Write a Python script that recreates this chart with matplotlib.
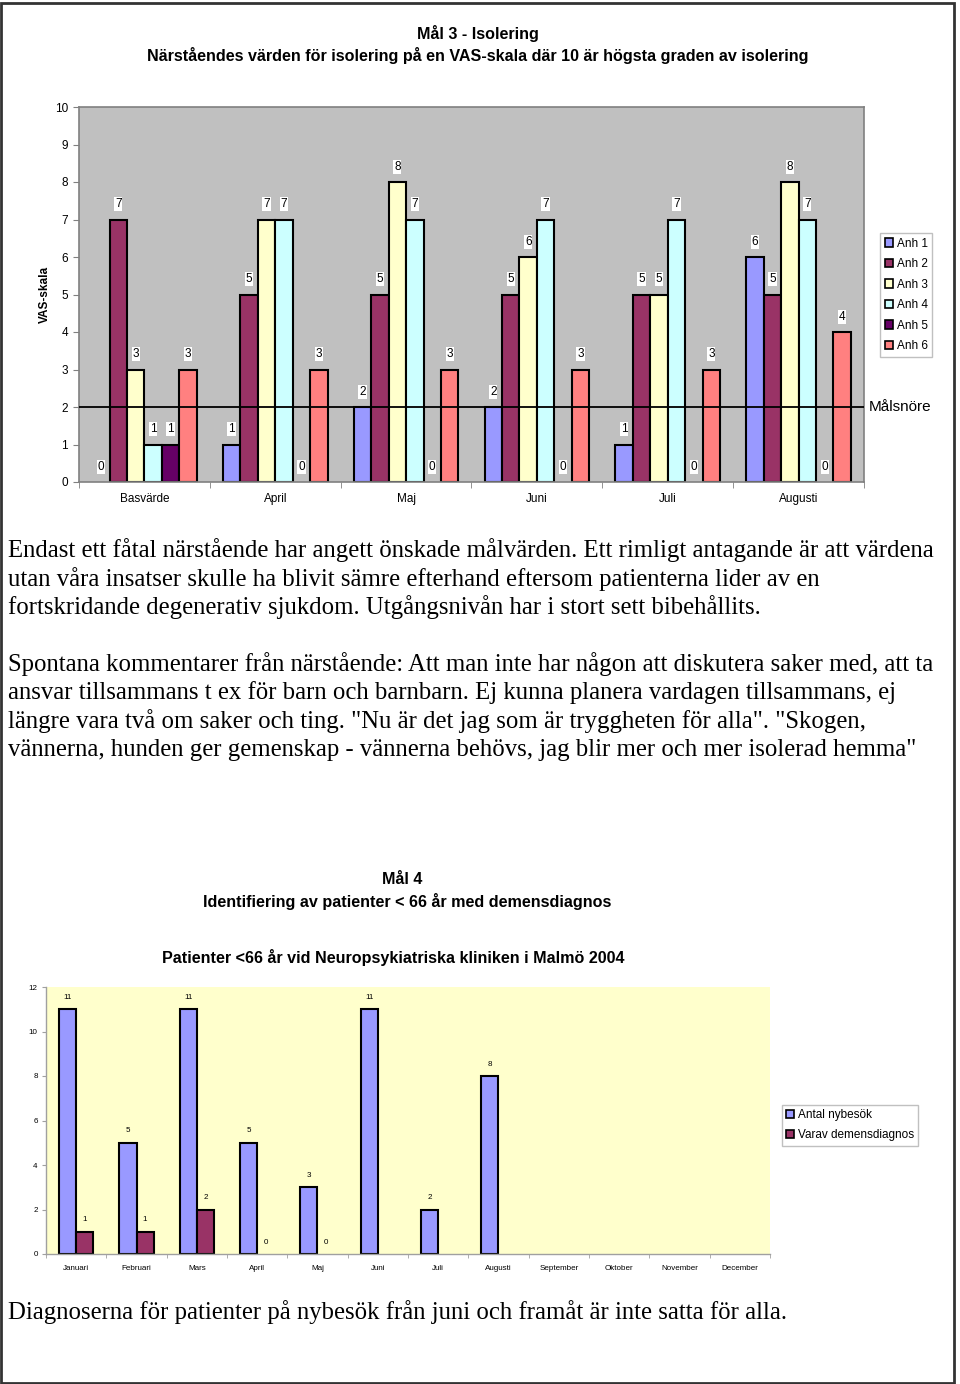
import matplotlib
matplotlib.use('Agg')
import matplotlib.pyplot as plt
import matplotlib.patches as patches
import numpy as np

plt.rcParams['font.family'] = ['Liberation Sans', 'DejaVu Sans']

# Mål 3 - VAS-skala per anhörig
perioder = ['Basvärde', 'April', 'Maj', 'Juni', 'Juli', 'Augusti']
anh_namn = ['Anh 1', 'Anh 2', 'Anh 3', 'Anh 4', 'Anh 5', 'Anh 6']
anh1 = [0, 1, 2, 2, 1, 6]
anh2 = [7, 5, 5, 5, 5, 5]
anh3 = [3, 7, 8, 6, 5, 8]
anh4 = [1, 7, 7, 7, 7, 7]
anh5 = [1, 0, 0, 0, 0, 0]
anh6 = [3, 3, 3, 3, 3, 4]
malsnore = 2
anh_farger = ['#9999FF', '#993366', '#FFFFCC', '#CCFFFF', '#660066', '#FF8080']

# Mål 4 - patienter < 66 år
manader = ['Januari', 'Februari', 'Mars', 'April', 'Maj', 'Juni', 'Juli',
           'Augusti', 'September', 'Oktober', 'November', 'December']
nybesok = [11, 5, 11, 5, 3, 11, 2, 8, None, None, None, None]
demens = [1, 1, 2, 0, 0, None, None, None, None, None, None, None]
serie_namn = ['Antal nybesök', 'Varav demensdiagnos']
serie_farger = ['#9999FF', '#993366']

text1 = ['Endast ett fåtal närstående har angett önskade målvärden. Ett rimligt antagande är att värdena',
         'utan våra insatser skulle ha blivit sämre efterhand eftersom patienterna lider av en',
         'fortskridande degenerativ sjukdom. Utgångsnivån har i stort sett bibehållits.']
text2 = ['Spontana kommentarer från närstående: Att man inte har någon att diskutera saker med, att ta',
         'ansvar tillsammans t ex för barn och barnbarn. Ej kunna planera vardagen tillsammans, ej',
         'längre vara två om saker och ting. "Nu är det jag som är tryggheten för alla". "Skogen,',
         'vännerna, hunden ger gemenskap - vännerna behövs, jag blir mer och mer isolerad hemma"']
text3 = 'Diagnoserna för patienter på nybesök från juni och framåt är inte satta för alla.'

W, H = 960, 1384
fig = plt.figure(figsize=(W / 100, H / 100), dpi=100)


def fx(px):
    return px / W


def fy(py):
    return 1 - py / H


# ---------- övre diagrammet ----------
ax1 = fig.add_axes([fx(79), fy(482), fx(864) - fx(79), fy(107) - fy(482)])
ax1.set_facecolor('#C0C0C0')
serier = [anh1, anh2, anh3, anh4, anh5, anh6]
x = np.arange(len(perioder))
bw = 0.8 / 6
for i, (vals, col) in enumerate(zip(serier, anh_farger)):
    pos = x - 0.4 + bw * (i + 0.5)
    lw = [1.5 if v else 0 for v in vals]
    ax1.bar(pos, vals, width=bw, color=col, edgecolor='black', linewidth=lw, zorder=2)
    for p, v in zip(pos, vals):
        ax1.annotate(str(v), (p, v), xytext=(0, 11), textcoords='offset points',
                     ha='center', va='center', fontsize=8.5, zorder=4,
                     bbox=dict(facecolor='white', edgecolor='none', pad=0.6))
ax1.axhline(malsnore, color='black', lw=1.3, zorder=3)
ax1.set_xlim(-0.5, len(perioder) - 0.5)
ax1.set_ylim(0, 10)
ax1.set_yticks(range(0, 11))
ax1.set_xticks(x)
ax1.set_xticklabels(perioder)
ax1.set_xticks(np.arange(-0.5, len(perioder)), minor=True)
ax1.tick_params(axis='x', which='major', length=0, pad=8, labelsize=8.5)
ax1.tick_params(axis='x', which='minor', length=4, color='#808080')
ax1.tick_params(axis='y', length=4, color='#808080', labelsize=8.5, pad=4)
for s in ax1.spines.values():
    s.set_color('#808080')
    s.set_linewidth(1.2)
ax1.set_ylabel('VAS-skala', fontsize=8.5, fontweight='bold', labelpad=3)

fig.text(fx(478), fy(33), 'Mål 3 - Isolering', ha='center', va='center',
         fontsize=11.6, fontweight='bold')
fig.text(fx(478), fy(55), 'Närståendes värden för isolering på en VAS-skala där 10 är högsta graden av isolering',
         ha='center', va='center', fontsize=11.6, fontweight='bold')
fig.text(fx(869), fy(407), 'Målsnöre', ha='left', va='center', fontsize=11)

handles = [patches.Patch(facecolor=c, edgecolor='black', linewidth=1.2, label=n)
           for c, n in zip(anh_farger, anh_namn)]
leg1 = fig.legend(handles=handles, loc='upper left', bbox_to_anchor=(fx(880), fy(233)),
                  fontsize=8.5, handlelength=0.7, handleheight=0.7, handletextpad=0.3,
                  labelspacing=0.72, borderpad=0.4, borderaxespad=0, fancybox=False,
                  edgecolor='#C0C0C0', framealpha=1)
leg1.get_frame().set_linewidth(1)

# ---------- brödtext ----------
serif = ['Liberation Serif', 'DejaVu Serif']
fs = 17.8
for k, line in enumerate(text1):
    fig.text(fx(8), fy(550 + 28.6 * k), line, ha='left', va='center', fontsize=fs, family=serif)
for k, line in enumerate(text2):
    fig.text(fx(8), fy(664 + 28.6 * k), line, ha='left', va='center', fontsize=fs, family=serif)
fig.text(fx(8), fy(1312), text3, ha='left', va='center', fontsize=fs, family=serif)

# ---------- nedre diagrammet ----------
fig.text(fx(402), fy(880), 'Mål 4', ha='center', va='center', fontsize=11.6, fontweight='bold')
fig.text(fx(407), fy(902), 'Identifiering av patienter < 66 år med demensdiagnos', ha='center',
         va='center', fontsize=11.6, fontweight='bold')
fig.text(fx(393), fy(958), 'Patienter <66 år vid Neuropsykiatriska kliniken i Malmö 2004', ha='center',
         va='center', fontsize=11.6, fontweight='bold')

ax2 = fig.add_axes([fx(46), fy(1254), fx(770) - fx(46), fy(987) - fy(1254)])
ax2.set_facecolor('#FFFFCC')
x2 = np.arange(len(manader))
bw2 = 0.285
for i, (vals, col) in enumerate(zip([nybesok, demens], serie_farger)):
    pos = x2 - bw2 + bw2 * (i + 0.5)
    hv = [np.nan if v is None else v for v in vals]
    lw = [1.5 if v else 0 for v in vals]
    ax2.bar(pos, hv, width=bw2, color=col, edgecolor='black', linewidth=lw, zorder=2)
    for p, v in zip(pos, vals):
        if v is not None:
            ax2.annotate(str(v), (p, v), xytext=(0, 8.5), textcoords='offset points',
                         ha='center', va='center', fontsize=5.8)
ax2.set_xlim(-0.5, len(manader) - 0.5)
ax2.set_ylim(0, 12)
ax2.set_yticks(range(0, 13, 2))
ax2.set_xticks(x2)
ax2.set_xticklabels(manader)
ax2.set_xticks(np.arange(-0.5, len(manader)), minor=True)
ax2.tick_params(axis='x', which='major', length=0, pad=8, labelsize=5.8)
ax2.tick_params(axis='x', which='minor', length=3, color='#A0A0A0')
ax2.tick_params(axis='y', length=3, color='#A0A0A0', labelsize=5.8, pad=3)
for side in ['top', 'right']:
    ax2.spines[side].set_visible(False)
for side in ['left', 'bottom']:
    ax2.spines[side].set_color('#A0A0A0')
    ax2.spines[side].set_linewidth(1)

h2 = [patches.Patch(facecolor=c, edgecolor='black', linewidth=1.2, label=n)
      for c, n in zip(serie_farger, serie_namn)]
leg2 = fig.legend(handles=h2, loc='upper left', bbox_to_anchor=(fx(782), fy(1105)),
                  fontsize=8.5, handlelength=0.7, handleheight=0.7, handletextpad=0.3,
                  labelspacing=0.7, borderpad=0.35, borderaxespad=0, fancybox=False,
                  edgecolor='#C0C0C0', framealpha=1)

# sidram
fig.add_artist(patches.Rectangle((0.001, 0.001), fx(954) - 0.001, 0.997, transform=fig.transFigure,
                                 fill=False, edgecolor='#333333', lw=2))

fig.savefig('out.png', dpi=100)
